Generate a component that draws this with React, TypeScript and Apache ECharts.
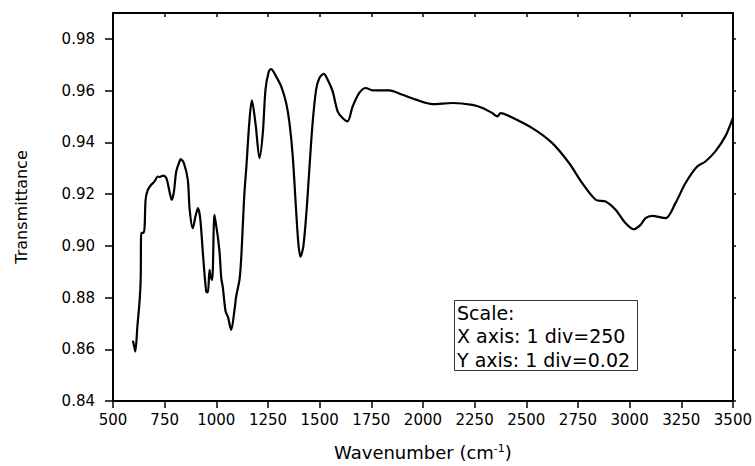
import React, { useEffect, useRef } from "react";
import * as echarts from "echarts";

const wavenumbers = [
  597, 603, 608, 618, 629, 634, 637, 648, 653, 658, 669, 685, 701, 717, 726, 742, 758, 770, 784, 795,
  806, 822, 827, 843, 862, 871, 886, 899, 911, 922, 935, 951, 959, 967, 973, 980, 991, 1000, 1007, 1016,
  1024, 1031, 1045, 1056, 1072, 1088, 1096, 1112, 1120, 1128, 1136, 1145, 1160, 1172, 1190, 1209, 1225, 1238, 1254, 1265,
  1289, 1314, 1338, 1354, 1370, 1386, 1397, 1407, 1421, 1437, 1450, 1466, 1483, 1499, 1520, 1539, 1563, 1587, 1611, 1635,
  1660, 1692, 1724, 1756, 1837, 1901, 1966, 2046, 2143, 2239, 2288, 2336, 2360, 2376, 2408, 2529, 2626, 2707, 2771, 2836,
  2884, 2932, 2980, 3020, 3053, 3077, 3109, 3174, 3222, 3270, 3326, 3367, 3415, 3463, 3500,
];

const transmittance = [
  0.863, 0.861, 0.8591, 0.8688, 0.879, 0.887, 0.905, 0.905, 0.9075, 0.918, 0.9217, 0.9236, 0.9249, 0.9268, 0.9266, 0.9271, 0.9262, 0.9223, 0.9178, 0.921,
  0.9287, 0.9326, 0.9335, 0.932, 0.9255, 0.914, 0.9068, 0.9113, 0.9146, 0.9107, 0.8972, 0.8823, 0.882, 0.8907, 0.888, 0.8868, 0.912, 0.9075, 0.9036, 0.8972,
  0.8875, 0.8842, 0.8746, 0.8726, 0.8675, 0.8752, 0.8804, 0.8868, 0.8946, 0.9075, 0.9204, 0.93, 0.948, 0.9562, 0.947, 0.9339, 0.9436, 0.9604, 0.9674, 0.9683,
  0.9655, 0.9616, 0.9552, 0.9475, 0.9345, 0.9139, 0.901, 0.8958, 0.8997, 0.9139, 0.9294, 0.9475, 0.9604, 0.9649, 0.9665, 0.9642, 0.9597, 0.952, 0.9494, 0.9481,
  0.9539, 0.9591, 0.961, 0.9601, 0.9601, 0.9584, 0.9565, 0.9548, 0.9552, 0.9545, 0.9533, 0.9513, 0.95, 0.9513, 0.9505, 0.9455, 0.9397, 0.932, 0.9242, 0.9178,
  0.9171, 0.9139, 0.9088, 0.9064, 0.9081, 0.9107, 0.9116, 0.9107, 0.9165, 0.9242, 0.9306, 0.9326, 0.9365, 0.9423, 0.9495,
];

const yTickValues = [0.84, 0.86, 0.88, 0.9, 0.92, 0.94, 0.96, 0.98];
const scaleLines = ["Scale:", "X axis: 1 div=250", "Y axis: 1 div=0.02"];

const FONT = "DejaVu Sans";

export default function App() {
  const ref = useRef<HTMLDivElement>(null);

  useEffect(() => {
    if (!ref.current) return;
    const chart = echarts.init(ref.current, null, { renderer: "svg" });
    const data = wavenumbers.map((w, i) => [w, transmittance[i]]);
    const axisLine = { show: true, lineStyle: { color: "#000", width: 2 } };

    chart.setOption({
      animation: false,
      backgroundColor: "#fff",
      grid: { left: 113, right: 21, top: 13, bottom: 65, containLabel: false },
      xAxis: [
        {
          type: "value",
          min: 500,
          max: 3500,
          interval: 250,
          position: "bottom",
          axisLine,
          axisTick: { show: true, inside: false, length: 7, lineStyle: { color: "#000", width: 1.5 } },
          axisLabel: {
            color: "#000",
            fontFamily: FONT,
            fontSize: 15,
            margin: 11,
            formatter: (v: number) => String(v),
          },
          splitLine: { show: false },
          name: "Wavenumber (cm{sup|-1})",
          nameLocation: "middle",
          nameGap: 42,
          nameTextStyle: {
            color: "#000",
            fontFamily: FONT,
            fontSize: 18,
            rich: {
              sup: { fontFamily: FONT, fontSize: 11, color: "#000", verticalAlign: "top", lineHeight: 10 },
            },
          },
        },
        {
          type: "value",
          min: 500,
          max: 3500,
          interval: 250,
          position: "top",
          axisLine,
          axisTick: { show: true, inside: true, length: 4, lineStyle: { color: "#000", width: 1.5 } },
          axisLabel: { show: false },
          splitLine: { show: false },
        },
      ],
      yAxis: [
        {
          type: "value",
          min: 0.84,
          max: 0.99,
          interval: 0.02,
          position: "left",
          axisLine,
          axisTick: {
            show: true,
            inside: false,
            length: 8,
            customValues: yTickValues,
            lineStyle: { color: "#000", width: 1.5 },
          },
          axisLabel: {
            color: "#000",
            fontFamily: FONT,
            fontSize: 15,
            margin: 18,
            customValues: yTickValues,
            formatter: (v: number) => v.toFixed(2),
          },
          splitLine: { show: false },
          name: "Transmittance",
          nameLocation: "middle",
          nameGap: 84,
          nameTextStyle: { color: "#000", fontFamily: FONT, fontSize: 16 },
        },
        {
          type: "value",
          min: 0.84,
          max: 0.99,
          interval: 0.02,
          position: "right",
          axisLine,
          axisTick: {
            show: true,
            inside: false,
            length: 3,
            customValues: yTickValues,
            lineStyle: { color: "#000", width: 1.5 },
          },
          axisLabel: { show: false },
          splitLine: { show: false },
        },
      ],
      series: [
        {
          type: "line",
          xAxisIndex: 0,
          yAxisIndex: 0,
          data,
          showSymbol: false,
          smooth: 0.3,
          lineStyle: { color: "#000", width: 2.2, join: "round", cap: "round" },
        },
      ],
      graphic: [
        {
          type: "rect",
          shape: { x: 454.5, y: 300.5, width: 183, height: 70 },
          style: { fill: "#fff", stroke: "#333", lineWidth: 1 },
          z: 10,
        },
        ...scaleLines.map((t, i) => ({
          type: "text",
          x: 457,
          y: 312.5 + i * 23.8,
          z: 11,
          style: {
            text: t,
            fill: "#000",
            font: `19px "${FONT}"`,
            textVerticalAlign: "middle",
            verticalAlign: "middle",
          },
        })),
      ],
    });

    return () => chart.dispose();
  }, []);

  return (
    <div
      ref={ref}
      style={{ position: "fixed", left: 0, top: 0, width: 755, height: 466, background: "#fff" }}
    />
  );
}
